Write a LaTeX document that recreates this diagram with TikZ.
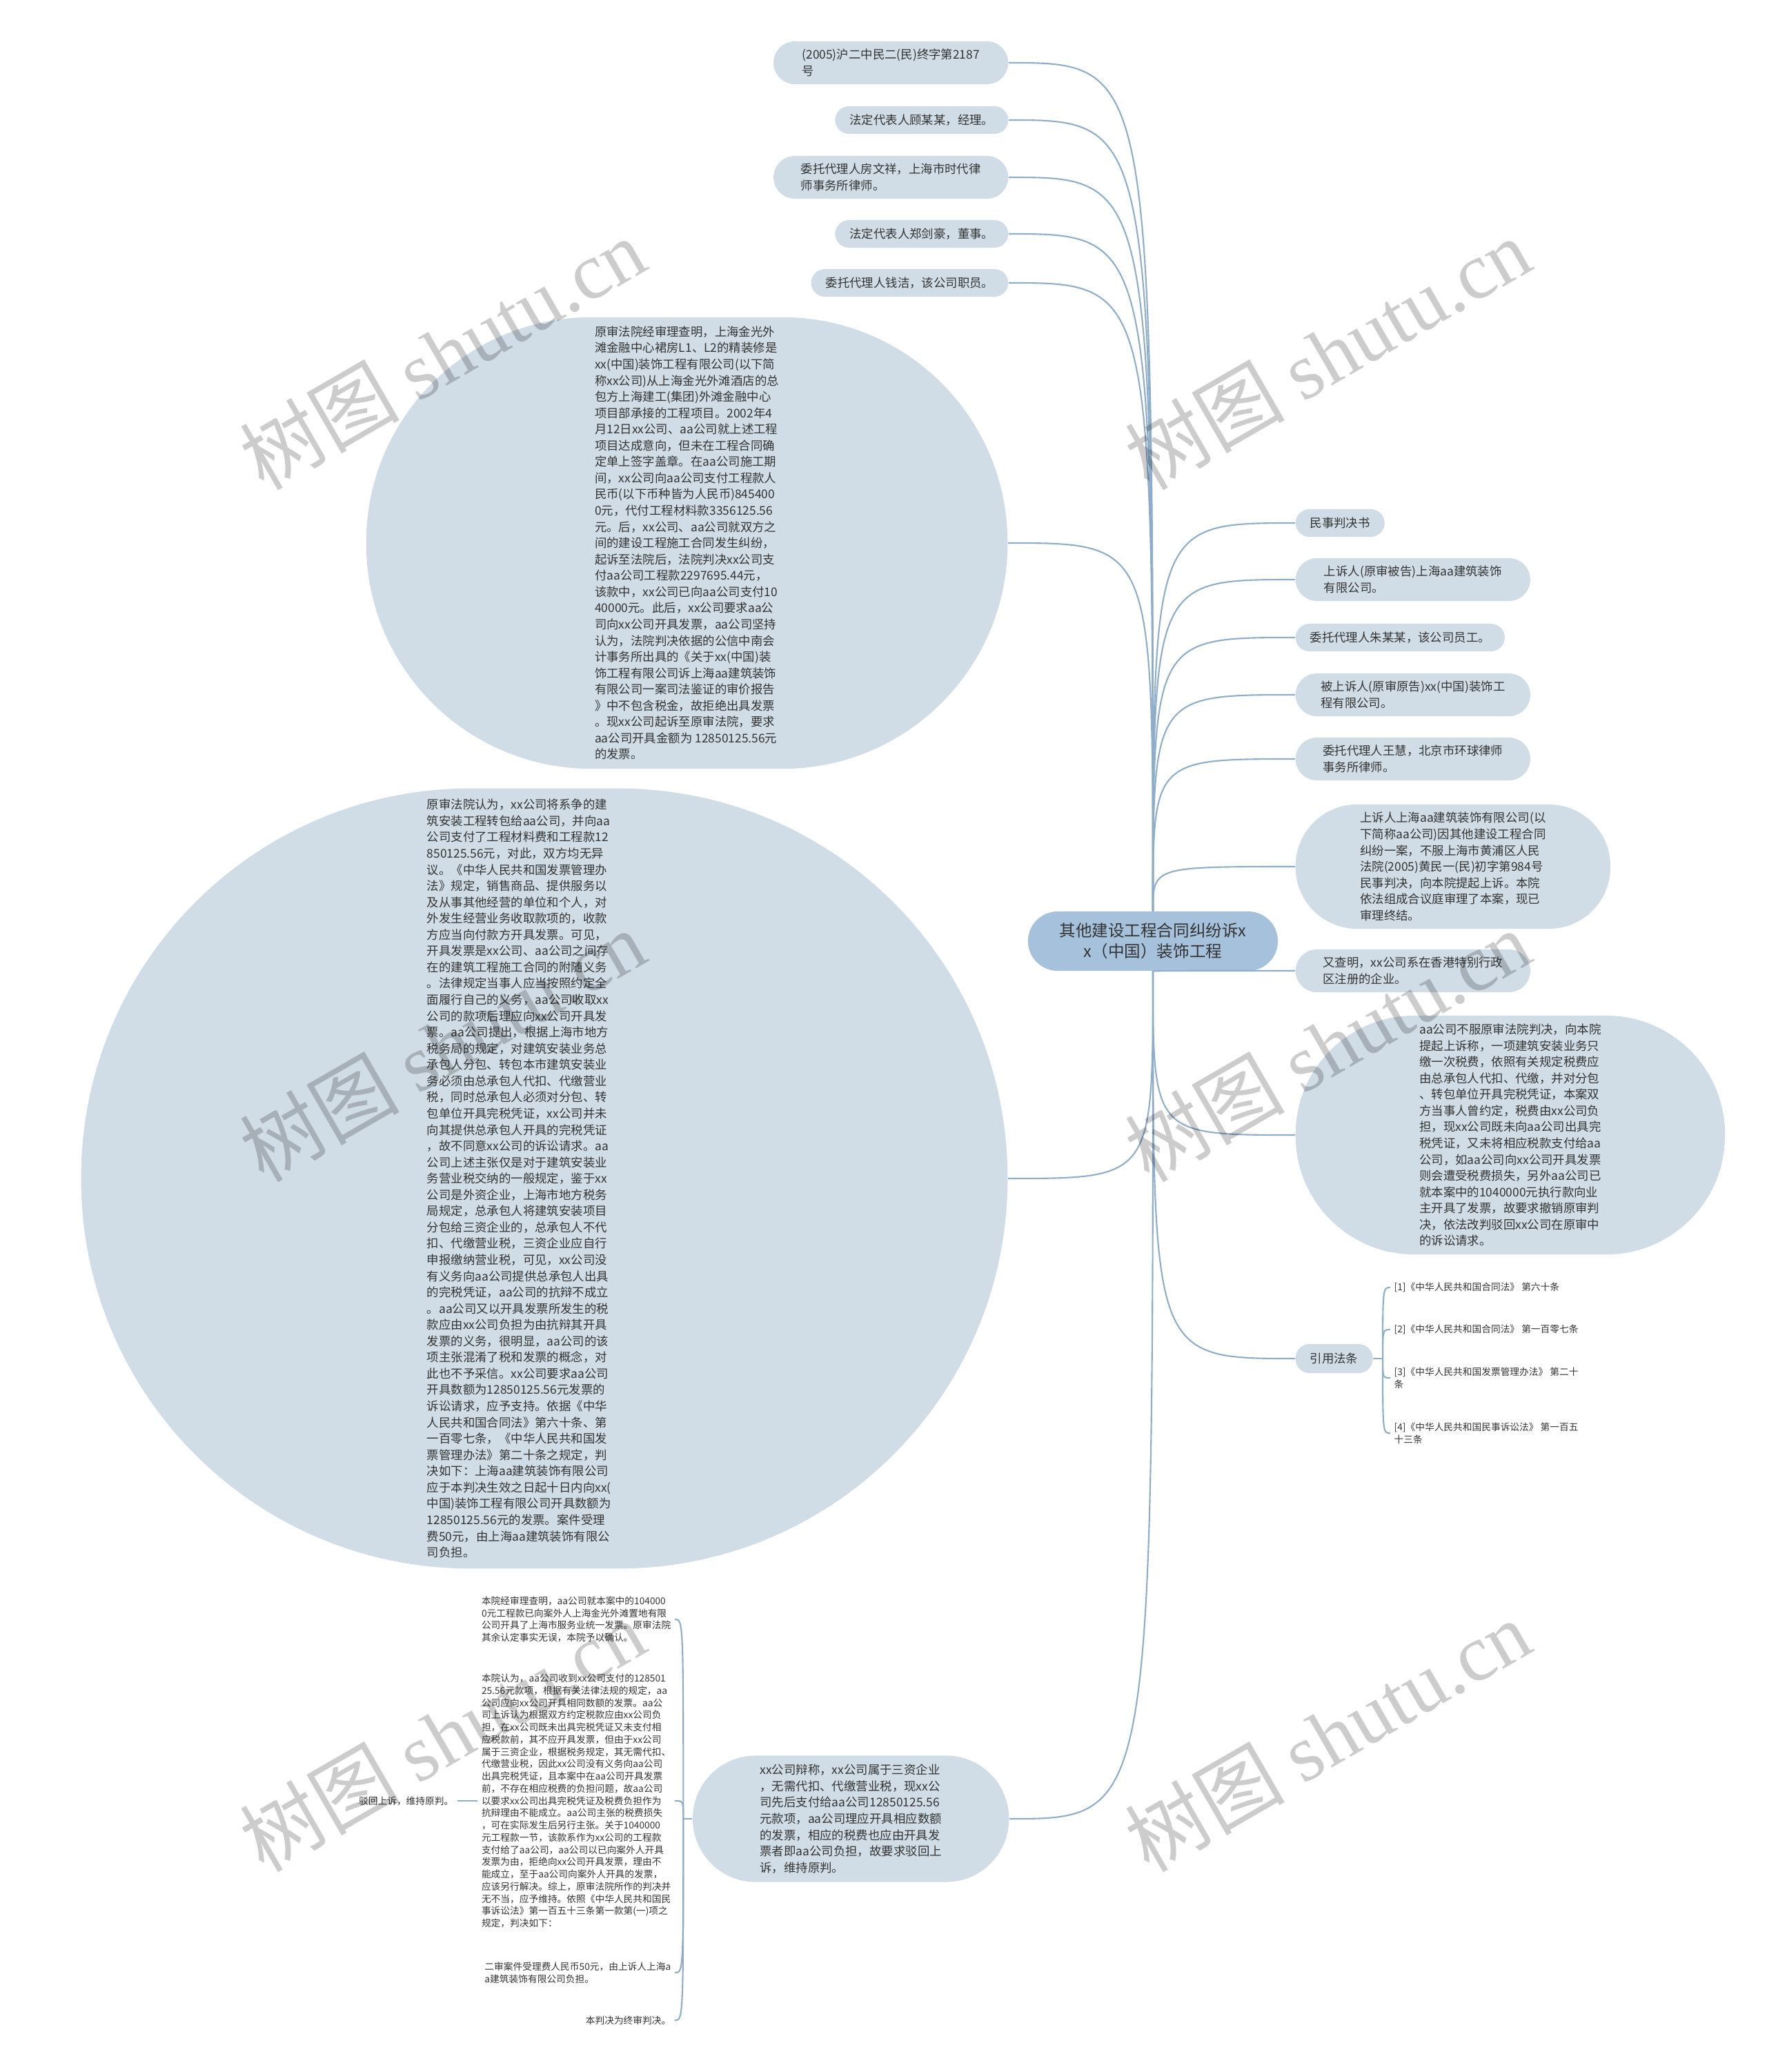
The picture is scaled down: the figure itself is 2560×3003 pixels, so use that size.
\documentclass[tikz,border=0pt]{standalone}
\usepackage{fontspec}
\setmainfont{Noto Sans CJK SC}
\newfontfamily\wmserif{Liberation Serif}
\usepackage{tikz}
\usetikzlibrary{positioning,calc}

\definecolor{topicfill}{RGB}{209,221,230}
\definecolor{rootfill}{RGB}{166,193,219}
\definecolor{linkblue}{RGB}{142,173,201}
\definecolor{inkgray}{RGB}{51,51,51}

\newcommand{\bodyfont}{\fontsize{4.95}{6.7}\selectfont}
\newcommand{\notefont}{\fontsize{3.9}{5.05}\selectfont}
\newcommand{\rootfont}{\fontsize{6.7}{8.5}\selectfont}

\tikzset{
    rootbox/.style={
        fill=rootfill,
        rounded corners=0.43cm,
        minimum width=3.62cm,
        minimum height=0.86cm,
        align=center,
        font=\rootfont,
        text=inkgray,
        inner sep=0pt
    },
    leafbox/.style={
        fill=topicfill,
        rounded corners=0.2cm,
        minimum height=0.4cm,
        align=left,
        font=\bodyfont,
        text=inkgray,
        inner xsep=0.21cm,
        inner ysep=0pt
    },
    leafpair/.style={
        leafbox,
        rounded corners=0.31cm,
        minimum height=0.62cm,
        minimum width=3.4cm
    },
    bigbox/.style={
        fill=topicfill,
        align=left,
        font=\bodyfont,
        text=inkgray,
        inner sep=0pt
    },
    plainnote/.style={
        align=left,
        font=\notefont,
        text=inkgray,
        inner xsep=0.05cm,
        inner ysep=0pt
    },
    link/.style={
        draw=linkblue,
        line width=0.6pt
    },
    watermark/.style={
        rotate=30,
        text=black,
        opacity=0.2,
        font=\fontsize{33}{33}\selectfont
    }
}

\begin{document}
\begin{tikzpicture}[x=0.01cm, y=-0.01cm]
    \useasboundingbox (0,0) rectangle (2560,3003);

    % central topic
    \node[rootbox] (root) at (1671,1364) {其他建设工程合同纠纷诉x\\x（中国）装饰工程};

    % left upper branches
    \node[leafpair, anchor=east] (n1) at (1462,91) {(2005)沪二中民二(民)终字第2187\\号};
    \node[leafbox, anchor=east] (n2) at (1462,174) {法定代表人顾某某，经理。};
    \node[leafpair, anchor=east] (n3) at (1462,257) {委托代理人房文祥，上海市时代律\\师事务所律师。};
    \node[leafbox, anchor=east] (n4) at (1462,339) {法定代表人郑剑豪，董事。};
    \node[leafbox, anchor=east] (n5) at (1462,410) {委托代理人钱洁，该公司职员。};

    \node[bigbox, anchor=east, minimum width=9.29cm, minimum height=6.54cm, rounded corners=3.26cm] (tc) at (1461,787) {
        原审法院经审理查明，上海金光外\\
        滩金融中心裙房L1、L2的精装修是\\
        xx(中国)装饰工程有限公司(以下简\\
        称xx公司)从上海金光外滩酒店的总\\
        包方上海建工(集团)外滩金融中心\\
        项目部承接的工程项目。2002年4\\
        月12日xx公司、aa公司就上述工程\\
        项目达成意向，但未在工程合同确\\
        定单上签字盖章。在aa公司施工期\\
        间，xx公司向aa公司支付工程款人\\
        民币(以下币种皆为人民币)845400\\
        0元，代付工程材料款3356125.56\\
        元。后，xx公司、aa公司就双方之\\
        间的建设工程施工合同发生纠纷，\\
        起诉至法院后，法院判决xx公司支\\
        付aa公司工程款2297695.44元，\\
        该款中，xx公司已向aa公司支付10\\
        40000元。此后，xx公司要求aa公\\
        司向xx公司开具发票，aa公司坚持\\
        认为，法院判决依据的公信中南会\\
        计事务所出具的《关于xx(中国)装\\
        饰工程有限公司诉上海aa建筑装饰\\
        有限公司一案司法鉴证的审价报告\\
        》中不包含税金，故拒绝出具发票\\
        。现xx公司起诉至原审法院，要求\\
        aa公司开具金额为 12850125.56元\\
        的发票。
    };

    \node[bigbox, anchor=east, minimum width=13.42cm, minimum height=11.3cm, rounded corners=5.64cm, text width=3.4cm] (lc) at (1461,1708) {
        原审法院认为，xx公司将系争的建\\
        筑安装工程转包给aa公司，并向aa\\
        公司支付了工程材料费和工程款12\\
        850125.56元，对此，双方均无异\\
        议。《中华人民共和国发票管理办\\
        法》规定，销售商品、提供服务以\\
        及从事其他经营的单位和个人，对\\
        外发生经营业务收取款项的，收款\\
        方应当向付款方开具发票。可见，\\
        开具发票是xx公司、aa公司之间存\\
        在的建筑工程施工合同的附随义务\\
        。法律规定当事人应当按照约定全\\
        面履行自己的义务，aa公司收取xx\\
        公司的款项后理应向xx公司开具发\\
        票。aa公司提出，根据上海市地方\\
        税务局的规定，对建筑安装业务总\\
        承包人分包、转包本市建筑安装业\\
        务必须由总承包人代扣、代缴营业\\
        税，同时总承包人必须对分包、转\\
        包单位开具完税凭证，xx公司并未\\
        向其提供总承包人开具的完税凭证\\
        ，故不同意xx公司的诉讼请求。aa\\
        公司上述主张仅是对于建筑安装业\\
        务营业税交纳的一般规定，鉴于xx\\
        公司是外资企业，上海市地方税务\\
        局规定，总承包人将建筑安装项目\\
        分包给三资企业的，总承包人不代\\
        扣、代缴营业税，三资企业应自行\\
        申报缴纳营业税，可见，xx公司没\\
        有义务向aa公司提供总承包人出具\\
        的完税凭证，aa公司的抗辩不成立\\
        。aa公司又以开具发票所发生的税\\
        款应由xx公司负担为由抗辩其开具\\
        发票的义务，很明显，aa公司的该\\
        项主张混淆了税和发票的概念，对\\
        此也不予采信。xx公司要求aa公司\\
        开具数额为12850125.56元发票的\\
        诉讼请求，应予支持。依据《中华\\
        人民共和国合同法》第六十条、第\\
        一百零七条，《中华人民共和国发\\
        票管理办法》第二十条之规定，判\\
        决如下：上海aa建筑装饰有限公司\\
        应于本判决生效之日起十日内向xx(\\
        中国)装饰工程有限公司开具数额为\\
        12850125.56元的发票。案件受理\\
        费50元，由上海aa建筑装饰有限公\\
        司负担。
    };

    \node[bigbox, anchor=east, minimum width=4.58cm, minimum height=1.83cm, rounded corners=0.91cm] (b1) at (1463,2636) {
        xx公司辩称，xx公司属于三资企业\\
        ，无需代扣、代缴营业税，现xx公\\
        司先后支付给aa公司12850125.56\\
        元款项，aa公司理应开具相应数额\\
        的发票，相应的税费也应由开具发\\
        票者即aa公司负担，故要求驳回上\\
        诉，维持原判。
    };

    % right branches
    \node[leafbox, anchor=west] (r1) at (1877,758) {民事判决书};
    \node[leafpair, anchor=west] (r2) at (1877,840) {上诉人(原审被告)上海aa建筑装饰\\有限公司。};
    \node[leafbox, anchor=west] (r3) at (1877,924) {委托代理人朱某某，该公司员工。};
    \node[leafpair, anchor=west] (r4) at (1877,1007) {被上诉人(原审原告)xx(中国)装饰工\\程有限公司。};
    \node[leafpair, anchor=west] (r5) at (1877,1100) {委托代理人王慧，北京市环球律师\\事务所律师。};
    \node[bigbox, anchor=west, minimum width=4.56cm, minimum height=1.8cm, rounded corners=0.89cm] (r6) at (1877,1256) {
        上诉人上海aa建筑装饰有限公司(以\\
        下简称aa公司)因其他建设工程合同\\
        纠纷一案，不服上海市黄浦区人民\\
        法院(2005)黄民一(民)初字第984号\\
        民事判决，向本院提起上诉。本院\\
        依法组成合议庭审理了本案，现已\\
        审理终结。
    };
    \node[leafpair, anchor=west] (r7) at (1877,1407) {又查明，xx公司系在香港特别行政\\区注册的企业。};
    \node[bigbox, anchor=west, minimum width=6.22cm, minimum height=3.46cm, rounded corners=1.72cm] (r8) at (1877,1645) {
        aa公司不服原审法院判决，向本院\\
        提起上诉称，一项建筑安装业务只\\
        缴一次税费，依照有关规定税费应\\
        由总承包人代扣、代缴，并对分包\\
        、转包单位开具完税凭证，本案双\\
        方当事人曾约定，税费由xx公司负\\
        担，现xx公司既未向aa公司出具完\\
        税凭证，又未将相应税款支付给aa\\
        公司，如aa公司向xx公司开具发票\\
        则会遭受税费损失，另外aa公司已\\
        就本案中的1040000元执行款向业\\
        主开具了发票，故要求撤销原审判\\
        决，依法改判驳回xx公司在原审中\\
        的诉讼请求。
    };
    \node[leafbox, anchor=west, minimum height=0.42cm] (yf) at (1877,1969) {引用法条};

    % cited articles
    \node[plainnote, anchor=west] (law1) at (2015,1866) {[1]《中华人民共和国合同法》 第六十条};
    \node[plainnote, anchor=west] (law2) at (2015,1927) {[2]《中华人民共和国合同法》 第一百零七条};
    \node[plainnote, anchor=west] (law3) at (2015,1997) {[3]《中华人民共和国发票管理办法》 第二十\\条};
    \node[plainnote, anchor=west] (law4) at (2015,2077) {[4]《中华人民共和国民事诉讼法》 第一百五\\十三条};

    % verdict details
    \node[plainnote, anchor=east] (v1) at (978,2347) {
        本院经审理查明，aa公司就本案中的104000\\
        0元工程款已向案外人上海金光外滩置地有限\\
        公司开具了上海市服务业统一发票。原审法院\\
        其余认定事实无误，本院予以确认。
    };
    \node[plainnote, anchor=east] (v2) at (978,2610) {
        本院认为，aa公司收到xx公司支付的128501\\
        25.56元款项，根据有关法律法规的规定，aa\\
        公司应向xx公司开具相同数额的发票。aa公\\
        司上诉认为根据双方约定税款应由xx公司负\\
        担，在xx公司既未出具完税凭证又未支付相\\
        应税款前，其不应开具发票，但由于xx公司\\
        属于三资企业，根据税务规定，其无需代扣、\\
        代缴营业税，因此xx公司没有义务向aa公司\\
        出具完税凭证，且本案中在aa公司开具发票\\
        前，不存在相应税费的负担问题，故aa公司\\
        以要求xx公司出具完税凭证及税费负担作为\\
        抗辩理由不能成立。aa公司主张的税费损失\\
        ，可在实际发生后另行主张。关于1040000\\
        元工程款一节，该款系作为xx公司的工程款\\
        支付给了aa公司，aa公司以已向案外人开具\\
        发票为由，拒绝向xx公司开具发票，理由不\\
        能成立，至于aa公司向案外人开具的发票，\\
        应该另行解决。综上，原审法院所作的判决并\\
        无不当，应予维持。依照《中华人民共和国民\\
        事诉讼法》第一百五十三条第一款第(一)项之\\
        规定，判决如下：
    };
    \node[plainnote, anchor=east] (v3) at (978,2859) {二审案件受理费人民币50元，由上诉人上海a\\a建筑装饰有限公司负担。};
    \node[plainnote, anchor=east] (v4) at (978,2928) {本判决为终审判决。};
    \node[plainnote, anchor=east] (bohui) at (663,2610) {驳回上诉，维持原判。};

    % connectors from the central topic
    \foreach \leaf in {n1,n2,n3,n4,n5,tc}
        \draw[link] (root.north) .. controls (root.north |- \leaf.east) .. (\leaf.east);
    \foreach \leaf in {r1,r2,r3,r4,r5,r6}
        \draw[link] (root.north) .. controls (root.north |- \leaf.west) .. (\leaf.west);
    \foreach \leaf in {r7,r8,yf}
        \draw[link] (root.south) .. controls (root.south |- \leaf.west) .. (\leaf.west);
    \foreach \leaf in {lc,b1}
        \draw[link] (root.south) .. controls (root.south |- \leaf.east) .. (\leaf.east);

    % cited articles
    \coordinate (lawhub) at ($(yf.east)+(14,0)$);
    \draw[link] (yf.east) -- (lawhub);
    \foreach \leaf in {law1,law2,law3,law4}
        \draw[link] (lawhub) .. controls (lawhub |- \leaf.west) .. (\leaf.west);

    % verdict bracket
    \coordinate (verdhub) at ($(b1.west)+(-13,0)$);
    \draw[link] (b1.west) -- (verdhub);
    \foreach \leaf in {v1,v2,v3,v4}
        \draw[link] (verdhub) .. controls (verdhub |- \leaf.east) .. (\leaf.east);
    \draw[link] (v2.west) -- (bohui.east);

    % watermarks
    \node[watermark] (wm1) at (641,512) {树图 {\wmserif shutu.cn}};
    \node[watermark] (wm2) at (1924,512) {树图 {\wmserif shutu.cn}};
    \node[watermark] (wm3) at (641,1515) {树图 {\wmserif shutu.cn}};
    \node[watermark] (wm4) at (1924,1515) {树图 {\wmserif shutu.cn}};
    \node[watermark] (wm5) at (641,2515) {树图 {\wmserif shutu.cn}};
    \node[watermark] (wm6) at (1924,2515) {树图 {\wmserif shutu.cn}};
\end{tikzpicture}
\end{document}
